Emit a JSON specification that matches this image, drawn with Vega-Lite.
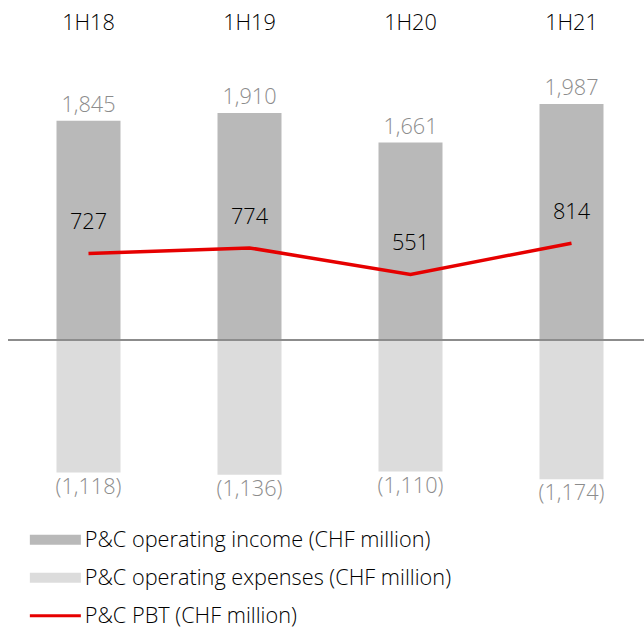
{
  "$schema": "https://vega.github.io/schema/vega-lite/v6.json",
  "autosize": {"type": "none"},
  "width": 636,
  "height": 463,
  "padding": {"left": 8, "top": 43, "right": 0, "bottom": 124},
  "background": "white",
  "config": {"view": {"stroke": null}, "font": "Open Sans"},
  "data": {"values": [
    {"period": "1H18", "series": "P&C operating income (CHF million)", "value": 1845, "label": "1,845"},
    {"period": "1H19", "series": "P&C operating income (CHF million)", "value": 1910, "label": "1,910"},
    {"period": "1H20", "series": "P&C operating income (CHF million)", "value": 1661, "label": "1,661"},
    {"period": "1H21", "series": "P&C operating income (CHF million)", "value": 1987, "label": "1,987"},
    {"period": "1H18", "series": "P&C operating expenses (CHF million)", "value": -1118, "label": "(1,118)"},
    {"period": "1H19", "series": "P&C operating expenses (CHF million)", "value": -1136, "label": "(1,136)"},
    {"period": "1H20", "series": "P&C operating expenses (CHF million)", "value": -1110, "label": "(1,110)"},
    {"period": "1H21", "series": "P&C operating expenses (CHF million)", "value": -1174, "label": "(1,174)"},
    {"period": "1H18", "series": "P&C PBT (CHF million)", "value": 727, "label": "727"},
    {"period": "1H19", "series": "P&C PBT (CHF million)", "value": 774, "label": "774"},
    {"period": "1H20", "series": "P&C PBT (CHF million)", "value": 551, "label": "551"},
    {"period": "1H21", "series": "P&C PBT (CHF million)", "value": 814, "label": "814"}
  ]},
  "encoding": {
    "x": {
      "field": "period", "type": "nominal", "sort": null,
      "scale": {"range": [0, 644], "paddingInner": 0, "paddingOuter": 0},
      "axis": {"orient": "top", "title": null, "domain": false, "ticks": false, "tickSize": 0, "labelPadding": 9, "labelFontSize": 21.7, "labelFontWeight": 300, "labelColor": "#000000", "labelAngle": 0, "labelFont": "Open Sans"}
    },
    "y": {
      "field": "value", "type": "quantitative",
      "scale": {"domain": [-1400, 2500], "nice": false, "zero": false},
      "axis": null
    }
  },
  "layer": [
    {
      "transform": [{"filter": "datum.series != 'P&C PBT (CHF million)'"}],
      "mark": {"type": "bar", "size": 64},
      "encoding": {
        "color": {
          "field": "series", "type": "nominal",
          "scale": {
            "domain": ["P&C operating income (CHF million)", "P&C operating expenses (CHF million)", "P&C PBT (CHF million)"],
            "range": ["#b9b9b9", "#dcdcdc", "#e60000"]
          },
          "legend": {
            "orient": "none", "legendX": 36.5, "legendY": 486, "title": null,
            "padding": 0, "rowPadding": 15,
            "symbolSize": 100, "labelOffset": 18.5,
            "labelFontSize": 21.7, "labelFontWeight": 300, "labelColor": "#000000", "labelFont": "Open Sans",
            "labelLimit": 600,
            "encode": {
              "symbols": {"update": {
                "shape": {"signal": "datum.value == 'P&C PBT (CHF million)' ? 'M-5.1,-0.3H5.1V0.3H-5.1Z' : 'M-5.1,-1H5.1V1H-5.1Z'"},
                "fill": {"scale": "color", "field": "value"},
                "stroke": {"value": "transparent"},
                "strokeWidth": {"value": 0},
                "opacity": {"value": 1}
              }}
            }
          }
        }
      }
    },
    {
      "mark": {"type": "rule", "color": "#8c8c8c", "strokeWidth": 1.5},
      "encoding": {"y": {"datum": 0}, "x": {"value": 0}, "x2": {"value": 636}}
    },
    {
      "transform": [{"filter": "datum.series == 'P&C PBT (CHF million)'"}],
      "mark": {"type": "line", "strokeWidth": 3.5},
      "encoding": {"color": {"field": "series", "type": "nominal"}}
    },
    {
      "transform": [{"filter": "datum.series == 'P&C operating income (CHF million)'"}],
      "mark": {"type": "text", "baseline": "bottom", "dy": -4, "fontSize": 21.7, "fontWeight": 300, "color": "#8c8c8c"},
      "encoding": {"text": {"field": "label"}}
    },
    {
      "transform": [{"filter": "datum.series == 'P&C operating expenses (CHF million)'"}],
      "mark": {"type": "text", "baseline": "top", "dy": 4, "fontSize": 21.7, "fontWeight": 300, "color": "#8c8c8c"},
      "encoding": {"text": {"field": "label"}}
    },
    {
      "transform": [{"filter": "datum.series == 'P&C PBT (CHF million)'"}],
      "mark": {"type": "text", "baseline": "middle", "dy": -31, "fontSize": 21.7, "fontWeight": 300, "color": "#000000"},
      "encoding": {"text": {"field": "label"}}
    }
  ]
}
